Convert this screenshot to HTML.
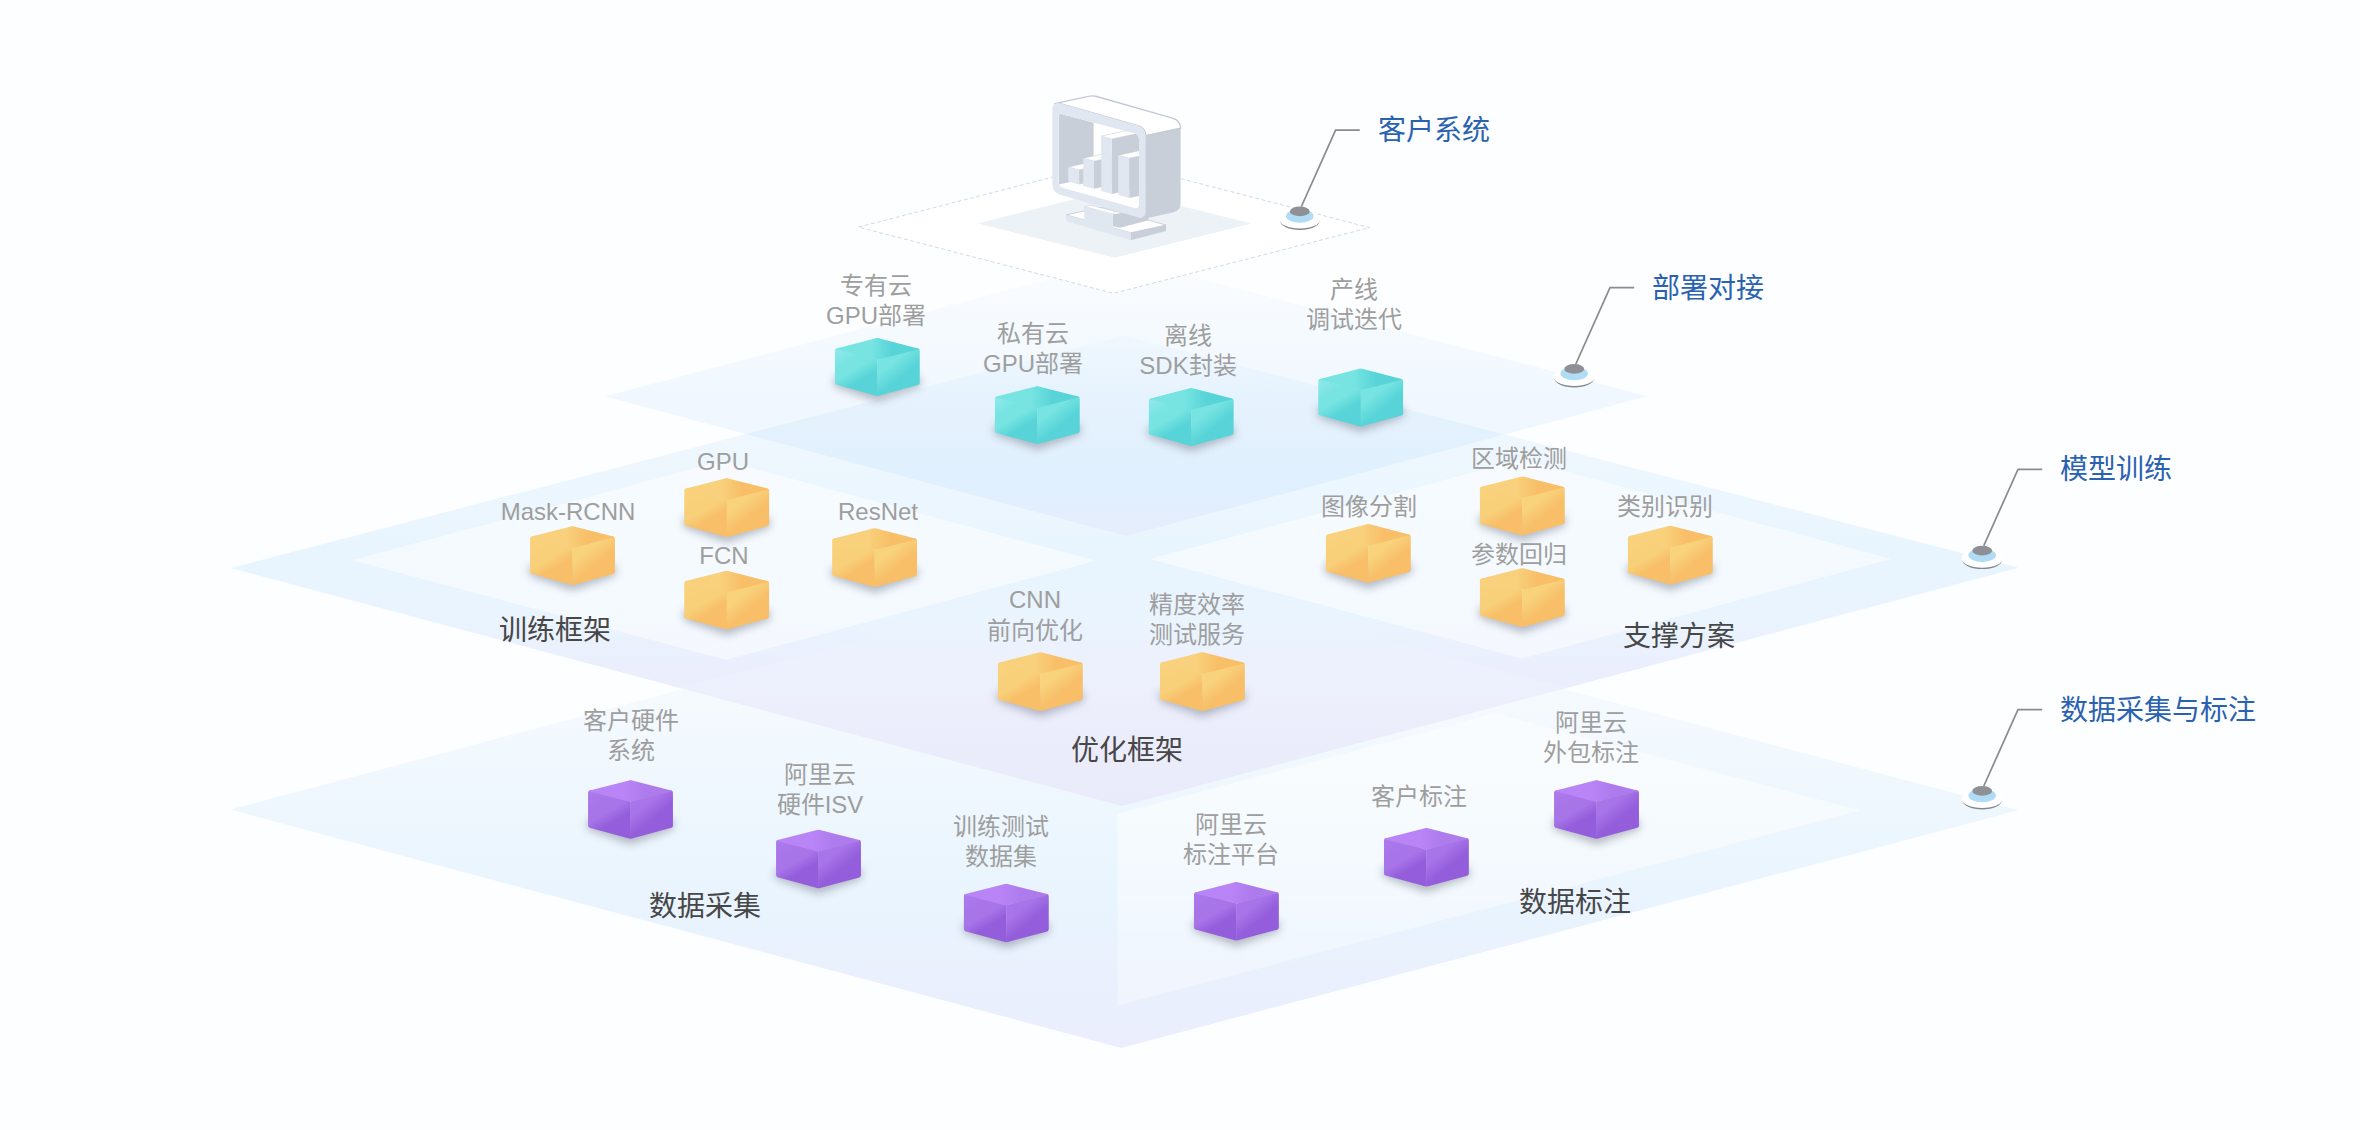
<!DOCTYPE html>
<html lang="zh-CN">
<head>
<meta charset="utf-8">
<title>architecture</title>
<style>
html,body{margin:0;padding:0;background:#fdfeff;}
body{width:2360px;height:1130px;overflow:hidden;font-family:"Liberation Sans",sans-serif;}
svg{display:block;position:absolute;left:0;top:0;}
text{font-family:"Liberation Sans",sans-serif;}
.g{font-size:24px;fill:#9e9e9e;text-anchor:middle;}
.d{font-size:28px;fill:#474747;text-anchor:middle;}
.b{font-size:28px;fill:#2a62b0;text-anchor:start;}
</style>
</head>
<body>
<svg width="2360" height="1130" viewBox="0 0 2360 1130">
<defs>
<linearGradient id="gL2" x1="0" y1="259" x2="0" y2="536" gradientUnits="userSpaceOnUse">
<stop offset="0" stop-color="#6eb4fa" stop-opacity="0.02"/><stop offset="0.3" stop-color="#6eb4fa" stop-opacity="0.06"/><stop offset="0.5" stop-color="#6eb4fa" stop-opacity="0.09"/><stop offset="0.82" stop-color="#6eb4fa" stop-opacity="0.10"/><stop offset="1" stop-color="#b482f0" stop-opacity="0.07"/>
</linearGradient>
<linearGradient id="gL3" x1="0" y1="335.5" x2="0" y2="806" gradientUnits="userSpaceOnUse">
<stop offset="0" stop-color="#f8fcff"/><stop offset="0.12" stop-color="#f2f9fe"/><stop offset="0.25" stop-color="#eef7fe"/><stop offset="0.45" stop-color="#e9f5fe"/><stop offset="0.6" stop-color="#e9f4fe"/><stop offset="0.7" stop-color="#ebeffd"/><stop offset="0.8" stop-color="#eaecfc"/><stop offset="1" stop-color="#e6e8fa"/>
</linearGradient>
<linearGradient id="gOV" x1="0" y1="572" x2="0" y2="806" gradientUnits="userSpaceOnUse">
<stop offset="0" stop-color="#ffffff" stop-opacity="0"/><stop offset="0.5" stop-color="#ffffff" stop-opacity="0.12"/><stop offset="1" stop-color="#ffffff" stop-opacity="0.12"/>
</linearGradient>
<linearGradient id="gP4" x1="0" y1="713" x2="0" y2="1005" gradientUnits="userSpaceOnUse">
<stop offset="0" stop-color="#ffffff" stop-opacity="0.55"/><stop offset="0.5" stop-color="#ffffff" stop-opacity="0.45"/><stop offset="1" stop-color="#ffffff" stop-opacity="0.3"/>
</linearGradient>
<linearGradient id="gL4" x1="0" y1="690" x2="0" y2="1048" gradientUnits="userSpaceOnUse">
<stop offset="0" stop-color="#f5fafe"/><stop offset="0.195" stop-color="#f1f8fe"/><stop offset="0.335" stop-color="#eef7fe"/><stop offset="0.5" stop-color="#eaf5fe"/><stop offset="0.67" stop-color="#e9f3fe"/><stop offset="0.81" stop-color="#eaf0fd"/><stop offset="1" stop-color="#ebeefd"/>
</linearGradient>
<linearGradient id="gP" x1="0" y1="0" x2="0" y2="1">
<stop offset="0" stop-color="#ffffff" stop-opacity="0.55"/><stop offset="1" stop-color="#ffffff" stop-opacity="0.5"/>
</linearGradient>
<filter id="blur" x="-40%" y="-60%" width="180%" height="240%"><feGaussianBlur stdDeviation="4.5"/></filter>
<filter id="blur3" x="-30%" y="-30%" width="160%" height="160%"><feGaussianBlur stdDeviation="0.7"/></filter>

<linearGradient id="ctT" x1="-42" y1="11" x2="42" y2="11" gradientUnits="userSpaceOnUse"><stop offset="0.42" stop-color="#77e4e2"/><stop offset="0.68" stop-color="#58d4d8"/></linearGradient>
<linearGradient id="ctL" x1="-42.5" y1="11" x2="-10.6" y2="65.3" gradientUnits="userSpaceOnUse"><stop offset="0" stop-color="#93e8ec"/><stop offset="0.28" stop-color="#77e4e2"/><stop offset="0.44" stop-color="#77e4e2"/><stop offset="0.64" stop-color="#58d4d8"/></linearGradient>
<linearGradient id="ctR" x1="0" y1="22" x2="29.1" y2="58.4" gradientUnits="userSpaceOnUse"><stop offset="0.25" stop-color="#77e4e2"/><stop offset="0.6" stop-color="#58d4d8"/></linearGradient>
<clipPath id="ctC"><path d="M-0.54,0.29 Q0.00,0.15 0.54,0.29 L40.79,10.58 Q42.45,11.00 42.45,12.71 L42.45,45.12 Q42.45,46.80 40.83,47.24 L0.58,58.14 Q0.00,58.30 -0.58,58.14 L-40.83,47.05 Q-42.45,46.60 -42.45,44.92 L-42.45,12.71 Q-42.45,11.00 -40.79,10.58 Z"/></clipPath>
<g id="ct">
<path d="M-43,38.6 L-43,48.6 L0,63.8 L43,48.6 L43,38.6 Z" fill="#8a909e" opacity="0.6" filter="url(#blur)"/>
<g clip-path="url(#ctC)">
<path d="M-44,9 L0.3,21.7 L0.3,61.3 L-44,61.3 Z" fill="url(#ctL)"/>
<path d="M44,9 L0,21.7 L0,61.3 L44,61.3 Z" fill="url(#ctR)"/>
<path d="M0,-2 L46,10.3 L0,22 L-46,10.3 Z" fill="url(#ctT)"/>
</g>
</g>
<linearGradient id="coT" x1="-42" y1="11" x2="42" y2="11" gradientUnits="userSpaceOnUse"><stop offset="0.42" stop-color="#f9d17c"/><stop offset="0.68" stop-color="#f8bf68"/></linearGradient>
<linearGradient id="coL" x1="-42.5" y1="11" x2="-10.6" y2="65.3" gradientUnits="userSpaceOnUse"><stop offset="0" stop-color="#f9d37f"/><stop offset="0.28" stop-color="#f9d07a"/><stop offset="0.44" stop-color="#f9d07a"/><stop offset="0.64" stop-color="#f8be68"/></linearGradient>
<linearGradient id="coR" x1="0" y1="22" x2="29.1" y2="58.4" gradientUnits="userSpaceOnUse"><stop offset="0.25" stop-color="#f9d27c"/><stop offset="0.6" stop-color="#f8be68"/></linearGradient>
<clipPath id="coC"><path d="M-0.54,0.29 Q0.00,0.15 0.54,0.29 L40.79,10.58 Q42.45,11.00 42.45,12.71 L42.45,46.02 Q42.45,47.70 40.83,48.14 L0.58,59.04 Q0.00,59.20 -0.58,59.04 L-40.83,47.95 Q-42.45,47.50 -42.45,45.82 L-42.45,12.71 Q-42.45,11.00 -40.79,10.58 Z"/></clipPath>
<g id="co">
<path d="M-43,39.5 L-43,49.5 L0,64.7 L43,49.5 L43,39.5 Z" fill="#8a909e" opacity="0.6" filter="url(#blur)"/>
<g clip-path="url(#coC)">
<path d="M-44,9 L0.3,21.7 L0.3,62.2 L-44,62.2 Z" fill="url(#coL)"/>
<path d="M44,9 L0,21.7 L0,62.2 L44,62.2 Z" fill="url(#coR)"/>
<path d="M0,-2 L46,10.3 L0,22 L-46,10.3 Z" fill="url(#coT)"/>
</g>
</g>
<linearGradient id="cpT" x1="-42" y1="11" x2="42" y2="11" gradientUnits="userSpaceOnUse"><stop offset="0.42" stop-color="#b985f6"/><stop offset="0.68" stop-color="#ae7bed"/></linearGradient>
<linearGradient id="cpL" x1="-42.5" y1="11" x2="-10.6" y2="65.3" gradientUnits="userSpaceOnUse"><stop offset="0" stop-color="#ad7aec"/><stop offset="0.28" stop-color="#a875e9"/><stop offset="0.44" stop-color="#a875e9"/><stop offset="0.64" stop-color="#935ddb"/></linearGradient>
<linearGradient id="cpR" x1="0" y1="22" x2="29.1" y2="58.4" gradientUnits="userSpaceOnUse"><stop offset="0.25" stop-color="#a875e9"/><stop offset="0.6" stop-color="#935ddb"/></linearGradient>
<clipPath id="cpC"><path d="M-0.54,0.29 Q0.00,0.15 0.54,0.29 L40.79,10.58 Q42.45,11.00 42.45,12.71 L42.45,45.82 Q42.45,47.50 40.83,47.94 L0.58,58.84 Q0.00,59.00 -0.58,58.84 L-40.83,47.75 Q-42.45,47.30 -42.45,45.62 L-42.45,12.71 Q-42.45,11.00 -40.79,10.58 Z"/></clipPath>
<g id="cp">
<path d="M-43,39.3 L-43,49.3 L0,64.5 L43,49.3 L43,39.3 Z" fill="#8a909e" opacity="0.6" filter="url(#blur)"/>
<g clip-path="url(#cpC)">
<path d="M-44,9 L0.3,21.7 L0.3,62.0 L-44,62.0 Z" fill="url(#cpL)"/>
<path d="M44,9 L0,21.7 L0,62.0 L44,62.0 Z" fill="url(#cpR)"/>
<path d="M0,-2 L46,10.3 L0,22 L-46,10.3 Z" fill="url(#cpT)"/>
</g>
</g>
<g id="pin">
<ellipse cx="0" cy="-0.3" rx="19.8" ry="9.2" fill="#6f747b" opacity="0.85" filter="url(#blur3)"/>
<ellipse cx="0" cy="-1.8" rx="20.5" ry="9.3" fill="#ffffff"/>
<ellipse cx="0" cy="-5" rx="13.8" ry="6.8" fill="#b0dcf5"/>
<ellipse cx="0" cy="-9.6" rx="9.9" ry="4.9" fill="#8e9095"/>
<path d="M1.6,-14.5 L35.8,-90.8 L60,-90.8" fill="none" stroke="#8b8b8b" stroke-width="1.7" stroke-linejoin="miter"/>
</g>
</defs>

<polygon points="230.3,809.6 1124.0,572.0 2018.4,810.2 1121.2,1047.9" fill="url(#gL4)"/>
<polygon points="1117.6,813.9 1495.0,713.5 1860.0,810.6 1117.6,1005.4" fill="url(#gP4)"/>
<polygon points="231.0,568.0 1124.0,335.5 2018.4,567.8 1122.0,806.1" fill="url(#gL3)"/>
<polygon points="677.8,688.5 1124.0,572.0 1570.5,688.8 1122.0,806.1" fill="url(#gOV)"/>
<polygon points="352.2,560.2 724.0,460.6 1095.5,560.8 726.0,659.8" fill="url(#gP)"/>
<polygon points="1150.0,559.0 1521.0,459.5 1891.0,559.0 1522.0,658.5" fill="url(#gP)"/>
<polygon points="605.2,396.3 1125.8,259.0 1646.9,396.2 1126.0,536.1" fill="url(#gL2)"/>
<polygon points="858.6,227.1 1114.0,161.3 1369.6,227.6 1113.5,293.3" fill="#ffffff" stroke="#ccd5de" stroke-width="0.9" stroke-dasharray="3.8 2.6"/>
<polygon points="977.5,223.5 1114.0,189.3 1251.3,223.6 1114.4,257.7" fill="#edf2f7"/>
<g id="monitor">
<polygon points="1066.2,214.9 1130.8,232.8 1166.0,225.0 1101.5,207.2" fill="#ffffff" stroke="#c3c9d4" stroke-width="0.8"/>
<polygon points="1066.2,214.9 1130.8,232.8 1130.8,240.2 1066.2,221.1" fill="#e1e7f0"/>
<polygon points="1130.8,232.8 1166.0,225.0 1166.0,231.0 1130.8,240.2" fill="#c9cfd9"/>
<polygon points="1112.6,214.5 1148.5,208.0 1148.5,220.3 1120.0,227.8 1112.6,226.2" fill="#c9cfd9"/>
<polygon points="1084.1,207.0 1112.6,214.6 1112.6,228.5 1084.1,220.5" fill="#e1e7f0"/>
<polygon points="1084.6,206.6 1090.5,205.2 1115.5,211.6 1112.4,213.9" fill="#ffffff" stroke="#c3c9d4" stroke-width="0.5"/>
<path d="M1140,135.9 L1180.6,127.6 L1180.6,203.5 Q1180.6,210.8 1172.6,212.6 L1140,219.8 Z" fill="#c9cfd9"/>
<path d="M1054.6,103.6 L1088.6,96.3 Q1092.6,95.4 1096.6,96.5 L1172.4,118.1 Q1180.6,120.5 1180.6,128.2 L1145.8,135.6 Q1145.6,128 1137.6,125.6 L1060.4,103.5 Z" fill="#ffffff" stroke="#c3c9d4" stroke-width="1.3" stroke-linejoin="round"/>
<clipPath id="mhole"><path d="M1058.5,117.2 Q1058.5,113.2 1062.3,114.2 L1134.5,133.5 Q1139,134.7 1139,139.4 L1139,204.4 Q1139,209.4 1134.3,208.1 L1062.6,187.7 Q1058.5,186.5 1058.5,182.3 Z"/></clipPath>
<g clip-path="url(#mhole)">
<rect x="1050" y="100" width="100" height="120" fill="#ffffff"/>
<polygon points="1058.5,100.0 1093.6,100.0 1093.6,177.2 1058.5,184.6" fill="#c9cfd9"/>
<polygon points="1079.1,170.0 1111.1,163.0 1111.1,177.5 1079.1,184.5" fill="#c9cfd9"/>
<polygon points="1068.2,167.0 1079.1,170.0 1111.1,163.0 1100.2,160.0" fill="#ffffff" stroke="#c3c9d4" stroke-width="0.5"/>
<polygon points="1068.2,167.0 1079.1,170.0 1079.1,184.5 1068.2,181.5" fill="#e1e7f0"/>
<polygon points="1094.0,161.2 1126.0,154.2 1126.0,181.8 1094.0,188.8" fill="#c9cfd9"/>
<polygon points="1083.3,158.3 1094.0,161.2 1126.0,154.2 1115.3,151.3" fill="#ffffff" stroke="#c3c9d4" stroke-width="0.5"/>
<polygon points="1083.3,158.3 1094.0,161.2 1094.0,188.8 1083.3,185.9" fill="#e1e7f0"/>
<polygon points="1111.9,139.0 1143.9,132.0 1143.9,187.0 1111.9,194.0" fill="#c9cfd9"/>
<polygon points="1101.2,136.1 1111.9,139.0 1143.9,132.0 1133.2,129.1" fill="#ffffff" stroke="#c3c9d4" stroke-width="0.5"/>
<polygon points="1101.2,136.1 1111.9,139.0 1111.9,194.0 1101.2,191.1" fill="#e1e7f0"/>
<polygon points="1129.2,158.3 1161.2,151.3 1161.2,191.1 1129.2,198.1" fill="#c9cfd9"/>
<polygon points="1118.2,155.3 1129.2,158.3 1161.2,151.3 1150.2,148.3" fill="#ffffff" stroke="#c3c9d4" stroke-width="0.5"/>
<polygon points="1118.2,155.3 1129.2,158.3 1129.2,198.1 1118.2,195.1" fill="#e1e7f0"/>
</g>
<path d="M1052.4,109.6 Q1052.4,101.3 1060.4,103.5 L1137.6,125.6 Q1145.6,127.9 1145.6,136 L1145.6,211.3 Q1145.6,219.5 1137.6,217.2 L1060.4,194.7 Q1052.4,192.4 1052.4,184.3 Z M1058.5,117.2 Q1058.5,113.2 1062.3,114.2 L1134.5,133.5 Q1139,134.7 1139,139.4 L1139,204.4 Q1139,209.4 1134.3,208.1 L1062.6,187.7 Q1058.5,186.5 1058.5,182.3 Z" fill="#e1e7f0" fill-rule="evenodd"/>
</g>
<use href="#ct" x="877.3" y="337.8"/>
<use href="#ct" x="1037.3" y="385.9"/>
<use href="#ct" x="1191.2" y="387.8"/>
<use href="#ct" x="1360.7" y="368.3"/>
<use href="#co" x="726.7" y="477.9"/>
<use href="#co" x="572.5" y="525.9"/>
<use href="#co" x="874.6" y="528"/>
<use href="#co" x="726.7" y="570.5"/>
<use href="#co" x="1040.3" y="652"/>
<use href="#co" x="1522.3" y="476.2"/>
<use href="#co" x="1368.3" y="523.8"/>
<use href="#co" x="1670.3" y="525.5"/>
<use href="#co" x="1522.3" y="568"/>
<use href="#co" x="1202.4" y="652"/>
<use href="#cp" x="630.5" y="779.9"/>
<use href="#cp" x="818.5" y="829.5"/>
<use href="#cp" x="1006.3" y="883.5"/>
<use href="#cp" x="1236.4" y="881.7"/>
<use href="#cp" x="1426.4" y="827.7"/>
<use href="#cp" x="1596.5" y="779.9"/>
<use href="#pin" x="1299.8" y="221.0"/>
<text class="b" x="1377.8" y="140.0">客户系统</text>
<use href="#pin" x="1574.2" y="378.5"/>
<text class="b" x="1652.2" y="297.5">部署对接</text>
<use href="#pin" x="1982.2" y="560.2"/>
<text class="b" x="2060.2" y="479.2">模型训练</text>
<use href="#pin" x="1982.2" y="800.5"/>
<text class="b" x="2060.2" y="719.5">数据采集与标注</text>
<text class="g" x="876" y="294.0">专有云</text>
<text class="g" x="876" y="324.0">GPU部署</text>
<text class="g" x="1033" y="342.0">私有云</text>
<text class="g" x="1033" y="372.0">GPU部署</text>
<text class="g" x="1188" y="344.0">离线</text>
<text class="g" x="1188" y="374.0">SDK封装</text>
<text class="g" x="1354" y="298.0">产线</text>
<text class="g" x="1354" y="328.0">调试迭代</text>
<text class="g" x="723" y="469.6">GPU</text>
<text class="g" x="568" y="519.6">Mask-RCNN</text>
<text class="g" x="878" y="519.6">ResNet</text>
<text class="g" x="724" y="563.6">FCN</text>
<text class="g" x="1519" y="466.6">区域检测</text>
<text class="g" x="1369" y="514.6">图像分割</text>
<text class="g" x="1665" y="514.6">类别识别</text>
<text class="g" x="1519" y="562.6">参数回归</text>
<text class="g" x="1035" y="607.6">CNN</text>
<text class="g" x="1035" y="638.6">前向优化</text>
<text class="g" x="1197" y="612.6">精度效率</text>
<text class="g" x="1197" y="642.6">测试服务</text>
<text class="g" x="631" y="728.6">客户硬件</text>
<text class="g" x="631" y="758.6">系统</text>
<text class="g" x="820" y="782.6">阿里云</text>
<text class="g" x="820" y="812.6">硬件ISV</text>
<text class="g" x="1001" y="834.6">训练测试</text>
<text class="g" x="1001" y="864.6">数据集</text>
<text class="g" x="1231" y="832.6">阿里云</text>
<text class="g" x="1231" y="862.6">标注平台</text>
<text class="g" x="1419" y="804.6">客户标注</text>
<text class="g" x="1591" y="730.6">阿里云</text>
<text class="g" x="1591" y="760.6">外包标注</text>
<text class="d" x="555" y="639.5">训练框架</text>
<text class="d" x="1679" y="645.5">支撑方案</text>
<text class="d" x="1127" y="759.5">优化框架</text>
<text class="d" x="705" y="915.5">数据采集</text>
<text class="d" x="1575" y="911.5">数据标注</text>
</svg>
</body>
</html>
